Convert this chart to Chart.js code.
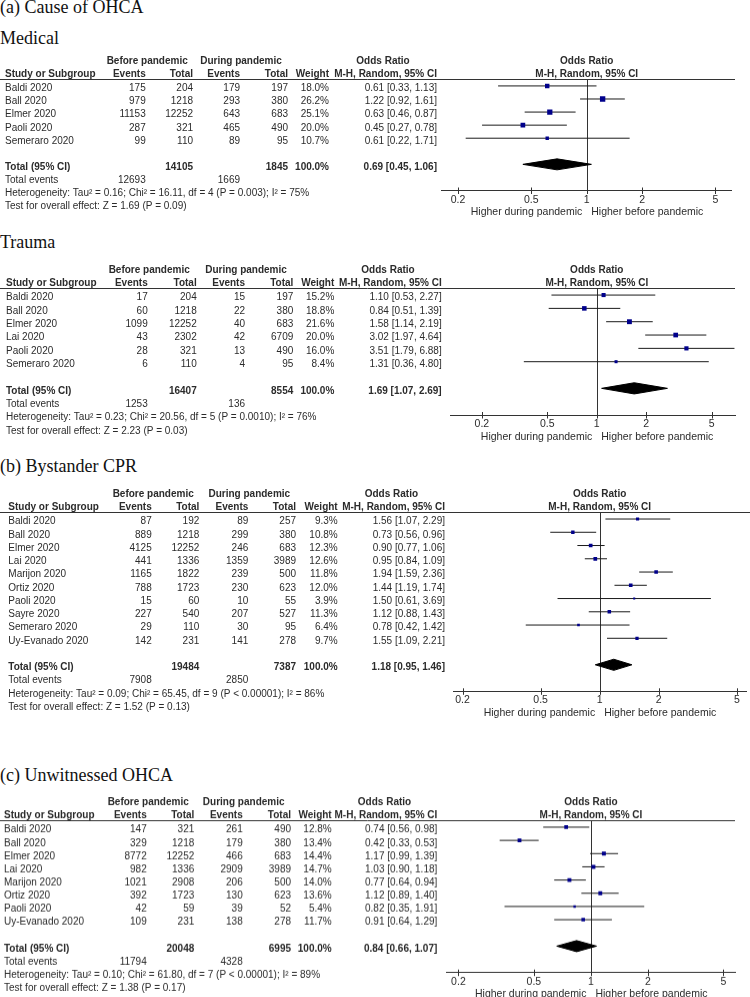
<!DOCTYPE html>
<html>
<head>
<meta charset="utf-8">
<title>OHCA before vs during pandemic - forest plots</title>
<script src="https://cdn.jsdelivr.net/npm/chart.js@4.4.1/dist/chart.umd.min.js"></script>
<style>
  body { margin: 0; background: #fff; }
  .page { position: relative; width: 750px; height: 997px; overflow: hidden; background: #fff; }
  .title { position: absolute; left: 0; font: 18px/18px "Liberation Serif", "Times New Roman", serif; color: #111; white-space: nowrap; }
  .panel { position: absolute; left: 0; width: 750px; }
</style>
</head>
<body>
<div class="page">
  <div class="title" style="top:-2.5px">(a) Cause of OHCA</div>
  <div class="title" style="top:29px">Medical</div>
  <div class="title" style="top:232.5px">Trauma</div>
  <div class="title" style="top:457px">(b) Bystander CPR</div>
  <div class="title" style="top:765.5px">(c) Unwitnessed OHCA</div>

  <div class="panel" id="wrapMed"><canvas id="chartMed"></canvas></div>
  <div class="panel" id="wrapTrauma"><canvas id="chartTrauma"></canvas></div>
  <div class="panel" id="wrapCpr"><canvas id="chartCpr"></canvas></div>
  <div class="panel" id="wrapUnw"><canvas id="chartUnw"></canvas></div>
</div>

<script>
// x axis (odds ratio, log)
const xTickValues = [0.2, 0.5, 1, 2, 5];
const xTickLabels = ['0.2', '0.5', '1', '2', '5'];

// (a) Medical
const medStudies = ['Baldi 2020', 'Ball 2020', 'Elmer 2020', 'Paoli 2020', 'Semeraro 2020'];
const medBeforeEvents = [175, 979, 11153, 287, 99];
const medBeforeTotal = [204, 1218, 12252, 321, 110];
const medDuringEvents = [179, 293, 643, 465, 89];
const medDuringTotal = [197, 380, 683, 490, 95];
const medWeight = [18.0, 26.2, 25.1, 20.0, 10.7];
const medOR = [0.61, 1.22, 0.63, 0.45, 0.61];
const medLow = [0.33, 0.92, 0.46, 0.27, 0.22];
const medHigh = [1.13, 1.61, 0.87, 0.78, 1.71];
const medPooled = [0.69, 0.45, 1.06];
const medHet = 'Heterogeneity: Tau\u00b2 = 0.16; Chi\u00b2 = 16.11, df = 4 (P = 0.003); I\u00b2 = 75%';
const medTest = 'Test for overall effect: Z = 1.69 (P = 0.09)';

// (a) Trauma
const traStudies = ['Baldi 2020', 'Ball 2020', 'Elmer 2020', 'Lai 2020', 'Paoli 2020', 'Semeraro 2020'];
const traBeforeEvents = [17, 60, 1099, 43, 28, 6];
const traBeforeTotal = [204, 1218, 12252, 2302, 321, 110];
const traDuringEvents = [15, 22, 40, 42, 13, 4];
const traDuringTotal = [197, 380, 683, 6709, 490, 95];
const traWeight = [15.2, 18.8, 21.6, 20.0, 16.0, 8.4];
const traOR = [1.10, 0.84, 1.58, 3.02, 3.51, 1.31];
const traLow = [0.53, 0.51, 1.14, 1.97, 1.79, 0.36];
const traHigh = [2.27, 1.39, 2.19, 4.64, 6.88, 4.80];
const traPooled = [1.69, 1.07, 2.69];
const traHet = 'Heterogeneity: Tau\u00b2 = 0.23; Chi\u00b2 = 20.56, df = 5 (P = 0.0010); I\u00b2 = 76%';
const traTest = 'Test for overall effect: Z = 2.23 (P = 0.03)';

// (b) Bystander CPR
const cprStudies = ['Baldi 2020', 'Ball 2020', 'Elmer 2020', 'Lai 2020', 'Marijon 2020', 'Ortiz 2020', 'Paoli 2020', 'Sayre 2020', 'Semeraro 2020', 'Uy-Evanado 2020'];
const cprBeforeEvents = [87, 889, 4125, 441, 1165, 788, 15, 227, 29, 142];
const cprBeforeTotal = [192, 1218, 12252, 1336, 1822, 1723, 60, 540, 110, 231];
const cprDuringEvents = [89, 299, 246, 1359, 239, 230, 10, 207, 30, 141];
const cprDuringTotal = [257, 380, 683, 3989, 500, 623, 55, 527, 95, 278];
const cprWeight = [9.3, 10.8, 12.3, 12.6, 11.8, 12.0, 3.9, 11.3, 6.4, 9.7];
const cprOR = [1.56, 0.73, 0.90, 0.95, 1.94, 1.44, 1.50, 1.12, 0.78, 1.55];
const cprLow = [1.07, 0.56, 0.77, 0.84, 1.59, 1.19, 0.61, 0.88, 0.42, 1.09];
const cprHigh = [2.29, 0.96, 1.06, 1.09, 2.36, 1.74, 3.69, 1.43, 1.42, 2.21];
const cprPooled = [1.18, 0.95, 1.46];
const cprHet = 'Heterogeneity: Tau\u00b2 = 0.09; Chi\u00b2 = 65.45, df = 9 (P < 0.00001); I\u00b2 = 86%';
const cprTest = 'Test for overall effect: Z = 1.52 (P = 0.13)';

// (c) Unwitnessed OHCA
const unwStudies = ['Baldi 2020', 'Ball 2020', 'Elmer 2020', 'Lai 2020', 'Marijon 2020', 'Ortiz 2020', 'Paoli 2020', 'Uy-Evanado 2020'];
const unwBeforeEvents = [147, 329, 8772, 982, 1021, 392, 42, 109];
const unwBeforeTotal = [321, 1218, 12252, 1336, 2908, 1723, 59, 231];
const unwDuringEvents = [261, 179, 466, 2909, 206, 130, 39, 138];
const unwDuringTotal = [490, 380, 683, 3989, 500, 623, 52, 278];
const unwWeight = [12.8, 13.4, 14.4, 14.7, 14.0, 13.6, 5.4, 11.7];
const unwOR = [0.74, 0.42, 1.17, 1.03, 0.77, 1.12, 0.82, 0.91];
const unwLow = [0.56, 0.33, 0.99, 0.90, 0.64, 0.89, 0.35, 0.64];
const unwHigh = [0.98, 0.53, 1.39, 1.18, 0.94, 1.40, 1.91, 1.29];
const unwPooled = [0.84, 0.66, 1.07];
const unwHet = 'Heterogeneity: Tau\u00b2 = 0.10; Chi\u00b2 = 61.80, df = 7 (P < 0.00001); I\u00b2 = 89%';
const unwTest = 'Test for overall effect: Z = 1.38 (P = 0.17)';

const TEXT = '#2b2b2b';
const FONT = '"Liberation Sans", Arial, sans-serif';
const SQUARE = '#00008b';

const fmt2 = v => v.toFixed(2);
const ciText = (or, lo, hi) => `${fmt2(or)} [${fmt2(lo)}, ${fmt2(hi)}]`;
const sum = a => a.reduce((s, v) => s + v, 0);

function makePanel(wrapId, canvasId, d, L) {
  const n = d.studies.length;
  const wrap = document.getElementById(wrapId);
  const top = L.lineY - 30;
  wrap.style.top = top + 'px';
  wrap.style.height = (L.axisY - top + 32) + 'px';

  // CI whiskers, one segment per study
  const ciSets = d.studies.map((s, i) => ({
    type: 'line',
    order: 2,
    data: [{ x: d.low[i], y: i }, { x: d.high[i], y: i }],
    borderColor: '#1a1a1a',
    borderWidth: 1,
    pointRadius: 0,
    fill: false
  }));

  const squares = {
    type: 'scatter',
    order: 0,
    data: d.or.map((v, i) => ({ x: v, y: i })),
    pointStyle: 'rect',
    pointRadius: d.weight.map(w => Math.sqrt(w) * 0.74),
    backgroundColor: SQUARE,
    borderWidth: 0
  };

  const t = n + 1;
  const diamond = {
    type: 'line',
    order: 1,
    data: [
      { x: d.pooled[1], y: t },
      { x: d.pooled[0], y: t - 0.42 },
      { x: d.pooled[2], y: t },
      { x: d.pooled[0], y: t + 0.42 },
      { x: d.pooled[1], y: t }
    ],
    borderColor: '#000',
    backgroundColor: '#000',
    borderWidth: 1,
    pointRadius: 0,
    tension: 0,
    fill: 'shape'
  };

  const forestTable = {
    id: 'forestTable',
    beforeDatasetsDraw(chart) {
      const { ctx, chartArea: a, scales: { x } } = chart;
      ctx.save();
      ctx.strokeStyle = '#333';
      ctx.lineWidth = 1;
      ctx.beginPath();
      ctx.moveTo(0, a.top + 0.5);
      ctx.lineTo(L.lineEnd, a.top + 0.5);
      const x1 = Math.round(x.getPixelForValue(1)) + 0.5;
      ctx.moveTo(x1, a.top);
      ctx.lineTo(x1, a.bottom);
      ctx.stroke();
      ctx.restore();
    },
    afterDraw(chart) {
      const { ctx, chartArea: a, scales: { x, y } } = chart;
      const c = L.cols;
      const row = r => y.getPixelForValue(r) + 5.4;
      const put = (txt, px, py, align, bold, size) => {
        ctx.font = (bold ? 'bold ' : '') + (size || 10) + 'px ' + FONT;
        ctx.textAlign = align;
        ctx.textBaseline = 'alphabetic';
        ctx.fillText(txt, px, py);
      };
      ctx.save();
      ctx.fillStyle = TEXT;

      // column headers
      const h1 = a.top - 15.5, h2 = a.top - 2;
      put('Before pandemic', c[1] + 1.5, h1, 'center', true);
      put('During pandemic', c[3] + 1, h1, 'center', true);
      put('Odds Ratio', (c[5] + c[6]) / 2, h1, 'center', true);
      put('Study or Subgroup', c[0], h2, 'left', true);
      put('Events', c[1], h2, 'right', true);
      put('Total', c[2], h2, 'right', true);
      put('Events', c[3], h2, 'right', true);
      put('Total', c[4], h2, 'right', true);
      put('Weight', c[5], h2, 'right', true);
      put('M-H, Random, 95% CI', c[6], h2, 'right', true);
      const x1 = x.getPixelForValue(1);
      put('Odds Ratio', x1, h1, 'center', true);
      put('M-H, Random, 95% CI', x1, h2, 'center', true);

      // study rows
      d.studies.forEach((s, i) => {
        const py = row(i);
        put(s, c[0], py, 'left');
        put(String(d.beforeEvents[i]), c[1], py, 'right');
        put(String(d.beforeTotal[i]), c[2], py, 'right');
        put(String(d.duringEvents[i]), c[3], py, 'right');
        put(String(d.duringTotal[i]), c[4], py, 'right');
        put(d.weight[i].toFixed(1) + '%', c[5], py, 'right');
        put(ciText(d.or[i], d.low[i], d.high[i]), c[6], py, 'right');
      });

      // totals
      const pt = row(t);
      put('Total (95% CI)', c[0], pt, 'left', true);
      put(String(sum(d.beforeTotal)), c[2], pt, 'right', true);
      put(String(sum(d.duringTotal)), c[4], pt, 'right', true);
      put('100.0%', c[5], pt, 'right', true);
      put(ciText(d.pooled[0], d.pooled[1], d.pooled[2]), c[6], pt, 'right', true);
      const pe = row(n + 2);
      put('Total events', c[0], pe, 'left');
      put(String(sum(d.beforeEvents)), c[1], pe, 'right');
      put(String(sum(d.duringEvents)), c[3], pe, 'right');
      put(d.het, c[0], row(n + 3), 'left');
      put(d.test, c[0], row(n + 4), 'left');

      // tick marks crossing the axis
      ctx.strokeStyle = '#333';
      ctx.lineWidth = 1;
      ctx.beginPath();
      xTickValues.forEach(v => {
        const px = Math.round(x.getPixelForValue(v)) + 0.5;
        ctx.moveTo(px, a.bottom - 3);
        ctx.lineTo(px, a.bottom + 3.5);
      });
      ctx.stroke();

      put('Higher during pandemic', x1 - 4.5, a.bottom + 24.5, 'right', false, 10.5);
      put('Higher before pandemic', x1 + 4.5, a.bottom + 24.5, 'left', false, 10.5);
      ctx.restore();
    }
  };

  new Chart(document.getElementById(canvasId), {
    type: 'scatter',
    data: { datasets: [...ciSets, diamond, squares] },
    options: {
      responsive: true,
      maintainAspectRatio: false,
      animation: false,
      events: [],
      layout: { padding: { top: 30, left: L.xLeft, right: 750 - L.xRight, bottom: 0 } },
      plugins: { legend: { display: false }, tooltip: { enabled: false } },
      scales: {
        x: {
          type: 'logarithmic',
          position: 'bottom',
          min: L.xMin,
          max: L.xMax,
          afterBuildTicks: s => { s.ticks = xTickValues.map(v => ({ value: v })); },
          afterFit: s => { s.height = 32; },
          grid: { display: false, drawTicks: false },
          border: { display: true, color: '#333', width: 1 },
          ticks: {
            padding: 3,
            color: TEXT,
            font: { family: FONT, size: 10.5 },
            autoSkip: false,
            maxRotation: 0,
            callback: (v, i) => xTickLabels[i]
          }
        },
        y: {
          type: 'linear',
          display: false,
          reverse: true,
          min: -0.53,
          max: n + 3
        }
      }
    },
    plugins: [forestTable]
  });
}

makePanel('wrapMed', 'chartMed', {
  studies: medStudies, beforeEvents: medBeforeEvents, beforeTotal: medBeforeTotal,
  duringEvents: medDuringEvents, duringTotal: medDuringTotal, weight: medWeight,
  or: medOR, low: medLow, high: medHigh, pooled: medPooled, het: medHet, test: medTest
}, { lineY: 78.5, axisY: 190, xLeft: 441.7, xRight: 731.7, xMin: 0.163, xMax: 6.13, lineEnd: 735,
     cols: [5, 145.7, 193, 240, 288, 329, 437] });

makePanel('wrapTrauma', 'chartTrauma', {
  studies: traStudies, beforeEvents: traBeforeEvents, beforeTotal: traBeforeTotal,
  duringEvents: traDuringEvents, duringTotal: traDuringTotal, weight: traWeight,
  or: traOR, low: traLow, high: traHigh, pooled: traPooled, het: traHet, test: traTest
}, { lineY: 288, axisY: 415, xLeft: 450, xRight: 735, xMin: 0.128, xMax: 6.93, lineEnd: 735,
     cols: [6, 147.7, 196.7, 245, 293.3, 334.3, 441.7] });

makePanel('wrapCpr', 'chartCpr', {
  studies: cprStudies, beforeEvents: cprBeforeEvents, beforeTotal: cprBeforeTotal,
  duringEvents: cprDuringEvents, duringTotal: cprDuringTotal, weight: cprWeight,
  or: cprOR, low: cprLow, high: cprHigh, pooled: cprPooled, het: cprHet, test: cprTest
}, { lineY: 511.7, axisY: 691, xLeft: 453.3, xRight: 746.7, xMin: 0.1795, xMax: 5.57, lineEnd: 750,
     cols: [8.3, 151.7, 199.3, 248.3, 296, 337.7, 445] });

makePanel('wrapUnw', 'chartUnw', {
  studies: unwStudies, beforeEvents: unwBeforeEvents, beforeTotal: unwBeforeTotal,
  duringEvents: unwDuringEvents, duringTotal: unwDuringTotal, weight: unwWeight,
  or: unwOR, low: unwLow, high: unwHigh, pooled: unwPooled, het: unwHet, test: unwTest
}, { lineY: 820, axisY: 971.7, xLeft: 446, xRight: 735, xMin: 0.172, xMax: 5.75, lineEnd: 735,
     cols: [4, 146.7, 194.3, 242.7, 291, 331.7, 437.3] });
</script>
</body>
</html>
